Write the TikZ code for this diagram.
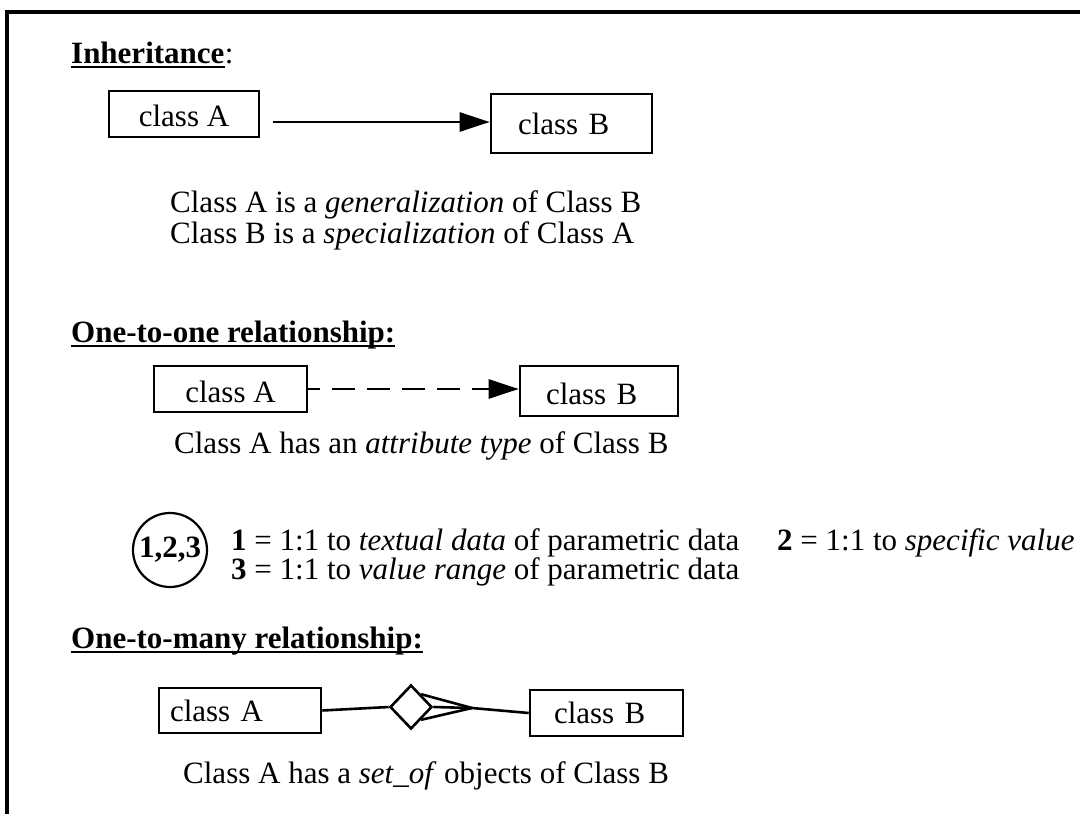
\documentclass[tikz,border=0pt]{standalone}
\usepackage{fontspec}
\setmainfont{Liberation Serif}
\usetikzlibrary{arrows.meta,shapes.geometric,calc}
\begin{document}
\begin{tikzpicture}[x=1pt,y=-1pt,
  every node/.style={inner sep=0pt, font=\fontsize{31}{31}\selectfont},
  txt/.style={anchor=base west},
  cbox/.style={draw, line width=2.6pt, inner sep=0pt},
  lbox/.style={cbox, align=left},
  conn/.style={line width=2.6pt},
  tri/.style={-{Triangle[length=30pt,width=19pt]}},
  uline/.style={line width=2.8pt},
  frame/.style={line width=3.4pt}]
\useasboundingbox (0,0) rectangle (1080,814);
% frame
\draw[frame] (7,814) -- (7,12) -- (1080,12);

% ---------- Inheritance ----------
\node[txt] (h1) at (71,63) {\textbf{Inheritance}};
\node[txt] (h1c) at (h1.base east) {:};
\draw[uline] ([yshift=-4pt]h1.base west) -- ([yshift=-4pt]h1.base east);

\node[cbox, minimum width=150pt, minimum height=46pt, text height=26pt] (a1) at (184,114) {class A};
\node[lbox, text width=107pt, inner xsep=27pt, minimum height=59pt] (b1) at (571.5,123.5) {class B};
\coordinate (s1) at (273,122);
\draw[conn,tri] (s1) -- (s1 -| b1.west);

\node[txt] (t1a) at (170,212) {Class A is a \textit{generalization} of Class B};
\node[txt] (t1b) at (170,243) {Class B is a \textit{specialization} of Class A};

% ---------- One-to-one ----------
\node[txt] (h2) at (71,342) {\textbf{One-to-one relationship:}};
\draw[uline] ([yshift=-4pt]h2.base west) -- ([yshift=-4pt]h2.base east);

\node[cbox, minimum width=153pt, minimum height=46pt, text height=27pt] (a2) at (230.5,389) {class A};
\node[lbox, text width=106pt, inner xsep=26pt, minimum height=50pt, text height=28pt] (b2) at (599,391) {class B};
\draw[conn,tri,dash pattern=on 23pt off 12pt,dash phase=11pt] (a2.east) -- (a2.east -| b2.west);

\node[txt] (t2) at (174,453) {Class A has an \textit{attribute type} of Class B};

\node[draw, circle, line width=2.2pt, minimum size=74pt] (c) at (170,550) {\textbf{1,2,3}};
\node[txt] (l1) at (231,550) {\textbf{1} = 1:1 to \textit{textual data} of parametric data};
\node[txt] (l1b) at (777,550) {\textbf{2} = 1:1 to \textit{specific value}};
\node[txt] (l2) at (231,579) {\textbf{3} = 1:1 to \textit{value range} of parametric data};

% ---------- One-to-many ----------
\node[txt] (h3) at (71,648) {\textbf{One-to-many relationship:}};
\draw[uline] ([yshift=-4pt]h3.base west) -- ([yshift=-4pt]h3.base east);

\node[lbox, text width=140pt, inner xsep=11pt, minimum height=45pt] (a3) at (240,710.5) {class A};
\node[lbox, text width=105pt, inner xsep=24pt, minimum height=46pt] (b3) at (606.5,713) {class B};
\node[draw, diamond, line width=2.6pt, minimum width=42pt, minimum height=44pt] (dia) at (411,707) {};
\coordinate (cf) at (472,708);
\draw[conn] (a3.east) -- (dia.west);
\draw[conn] (cf) -- ($(dia.north)!0.45!(dia.east)$);
\draw[conn] (cf) -- (dia.east);
\draw[conn] (cf) -- ($(dia.south)!0.45!(dia.east)$);
\draw[conn] (cf) -- (b3.west);

\node[txt] (t3) at (183,783) {Class A has a \textit{set\_of} objects of Class B};
\end{tikzpicture}
\end{document}
